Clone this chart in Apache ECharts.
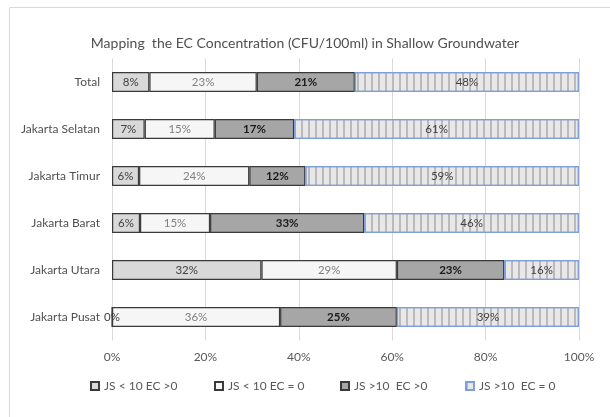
<!DOCTYPE html>
<html>
<head>
<meta charset="utf-8">
<script src="https://cdn.jsdelivr.net/npm/echarts@6/dist/echarts.min.js"></script>
<style>
  html, body { margin: 0; padding: 0; background: #fff; }
  #chart { width: 610px; height: 417px; }
</style>
</head>
<body>
<div id="chart"></div>
<script>
// regions, top to bottom
const regions = ['Total', 'Jakarta Selatan', 'Jakarta Timur', 'Jakarta Barat', 'Jakarta Utara', 'Jakarta Pusat']
const seriesNames = ['JS < 10 EC >0', 'JS < 10 EC = 0', 'JS >10  EC >0', 'JS >10  EC = 0']
// percent per region
const jsLowEcPos = [8, 7, 5.8, 6, 32, 0]
const jsLowEcZero = [23, 15, 23.6, 15, 29, 36]
const jsHighEcPos = [21, 17, 12, 33, 23, 25]
const jsHighEcZero = [48, 61, 58.6, 46, 16, 39]
const xTicks = [0, 20, 40, 60, 80, 100]

const font = 'Lato, "Open Sans", sans-serif'
const chart = echarts.init(document.getElementById('chart'))

const pct = (p) => Math.round(p.value) + '%'

function makeBar(name, data, fill, border, labelColor, bold, decal) {
  const s = {
    name: name,
    type: 'bar',
    stack: 'all',
    barWidth: 20,
    data: data,
    itemStyle: { color: fill, borderColor: border, borderWidth: 1.2 },
    label: {
      show: true,
      position: 'inside',
      formatter: pct,
      color: labelColor,
      fontFamily: font,
      fontSize: 11.5,
      fontWeight: bold ? 'bold' : 'normal'
    },
    emphasis: { disabled: true }
  }
  if (decal) s.itemStyle.decal = decal
  return s
}

const option = {
  backgroundColor: '#fff',
  animation: false,
  title: {
    text: 'Mapping  the EC Concentration (CFU/100ml) in Shallow Groundwater',
    left: 'center',
    top: 31,
    textStyle: { color: '#505050', fontFamily: font, fontSize: 14, fontWeight: 'normal' }
  },
  graphic: [{
    type: 'rect',
    left: 7, top: 5,
    shape: { width: 700, height: 500 },
    style: { fill: 'none', stroke: '#d9d9d9', lineWidth: 1 },
    silent: true
  }],
  legend: seriesNames.map((n, i) => ({
    data: [n],
    left: [85, 209, 335, 460][i],
    top: 375,
    icon: 'rect',
    itemWidth: 8,
    itemHeight: 8,
    itemGap: 4,
    selectedMode: false,
    textStyle: { color: '#595959', fontFamily: font, fontSize: 12 }
  })),
  grid: { left: 112, right: 31, top: 58.5, bottom: 76.5, containLabel: false },
  xAxis: {
    type: 'value',
    min: xTicks[0],
    max: xTicks[xTicks.length - 1],
    interval: 20,
    axisLine: { show: false },
    axisTick: { show: false },
    splitLine: { lineStyle: { color: '#d9d9d9', width: 1 } },
    axisLabel: { formatter: '{value}%', color: '#595959', fontFamily: font, fontSize: 12, margin: 11 }
  },
  yAxis: {
    type: 'category',
    data: regions,
    inverse: true,
    axisLine: { show: false },
    axisTick: { show: false },
    axisLabel: { color: '#505050', fontFamily: font, fontSize: 12, margin: 12 }
  },
  series: [
    makeBar(seriesNames[0], jsLowEcPos, '#d9d9d9', '#3a3a3a', '#404040', false),
    makeBar(seriesNames[1], jsLowEcZero, '#f6f6f6', '#3a3a3a', '#7f7f7f', false),
    makeBar(seriesNames[2], jsHighEcPos, '#a6a6a6', '#3a3a3a', '#1a1a1a', true),
    makeBar(seriesNames[3], jsHighEcZero, '#e8e8e8', '#7f9fd6', '#404040', false, {
      color: 'rgba(140,140,140,0.5)',
      symbol: 'rect',
      symbolSize: 1,
      dashArrayX: [2, 5],
      dashArrayY: [10, 0]
    })
  ]
}

chart.setOption(option)
</script>
</body>
</html>
